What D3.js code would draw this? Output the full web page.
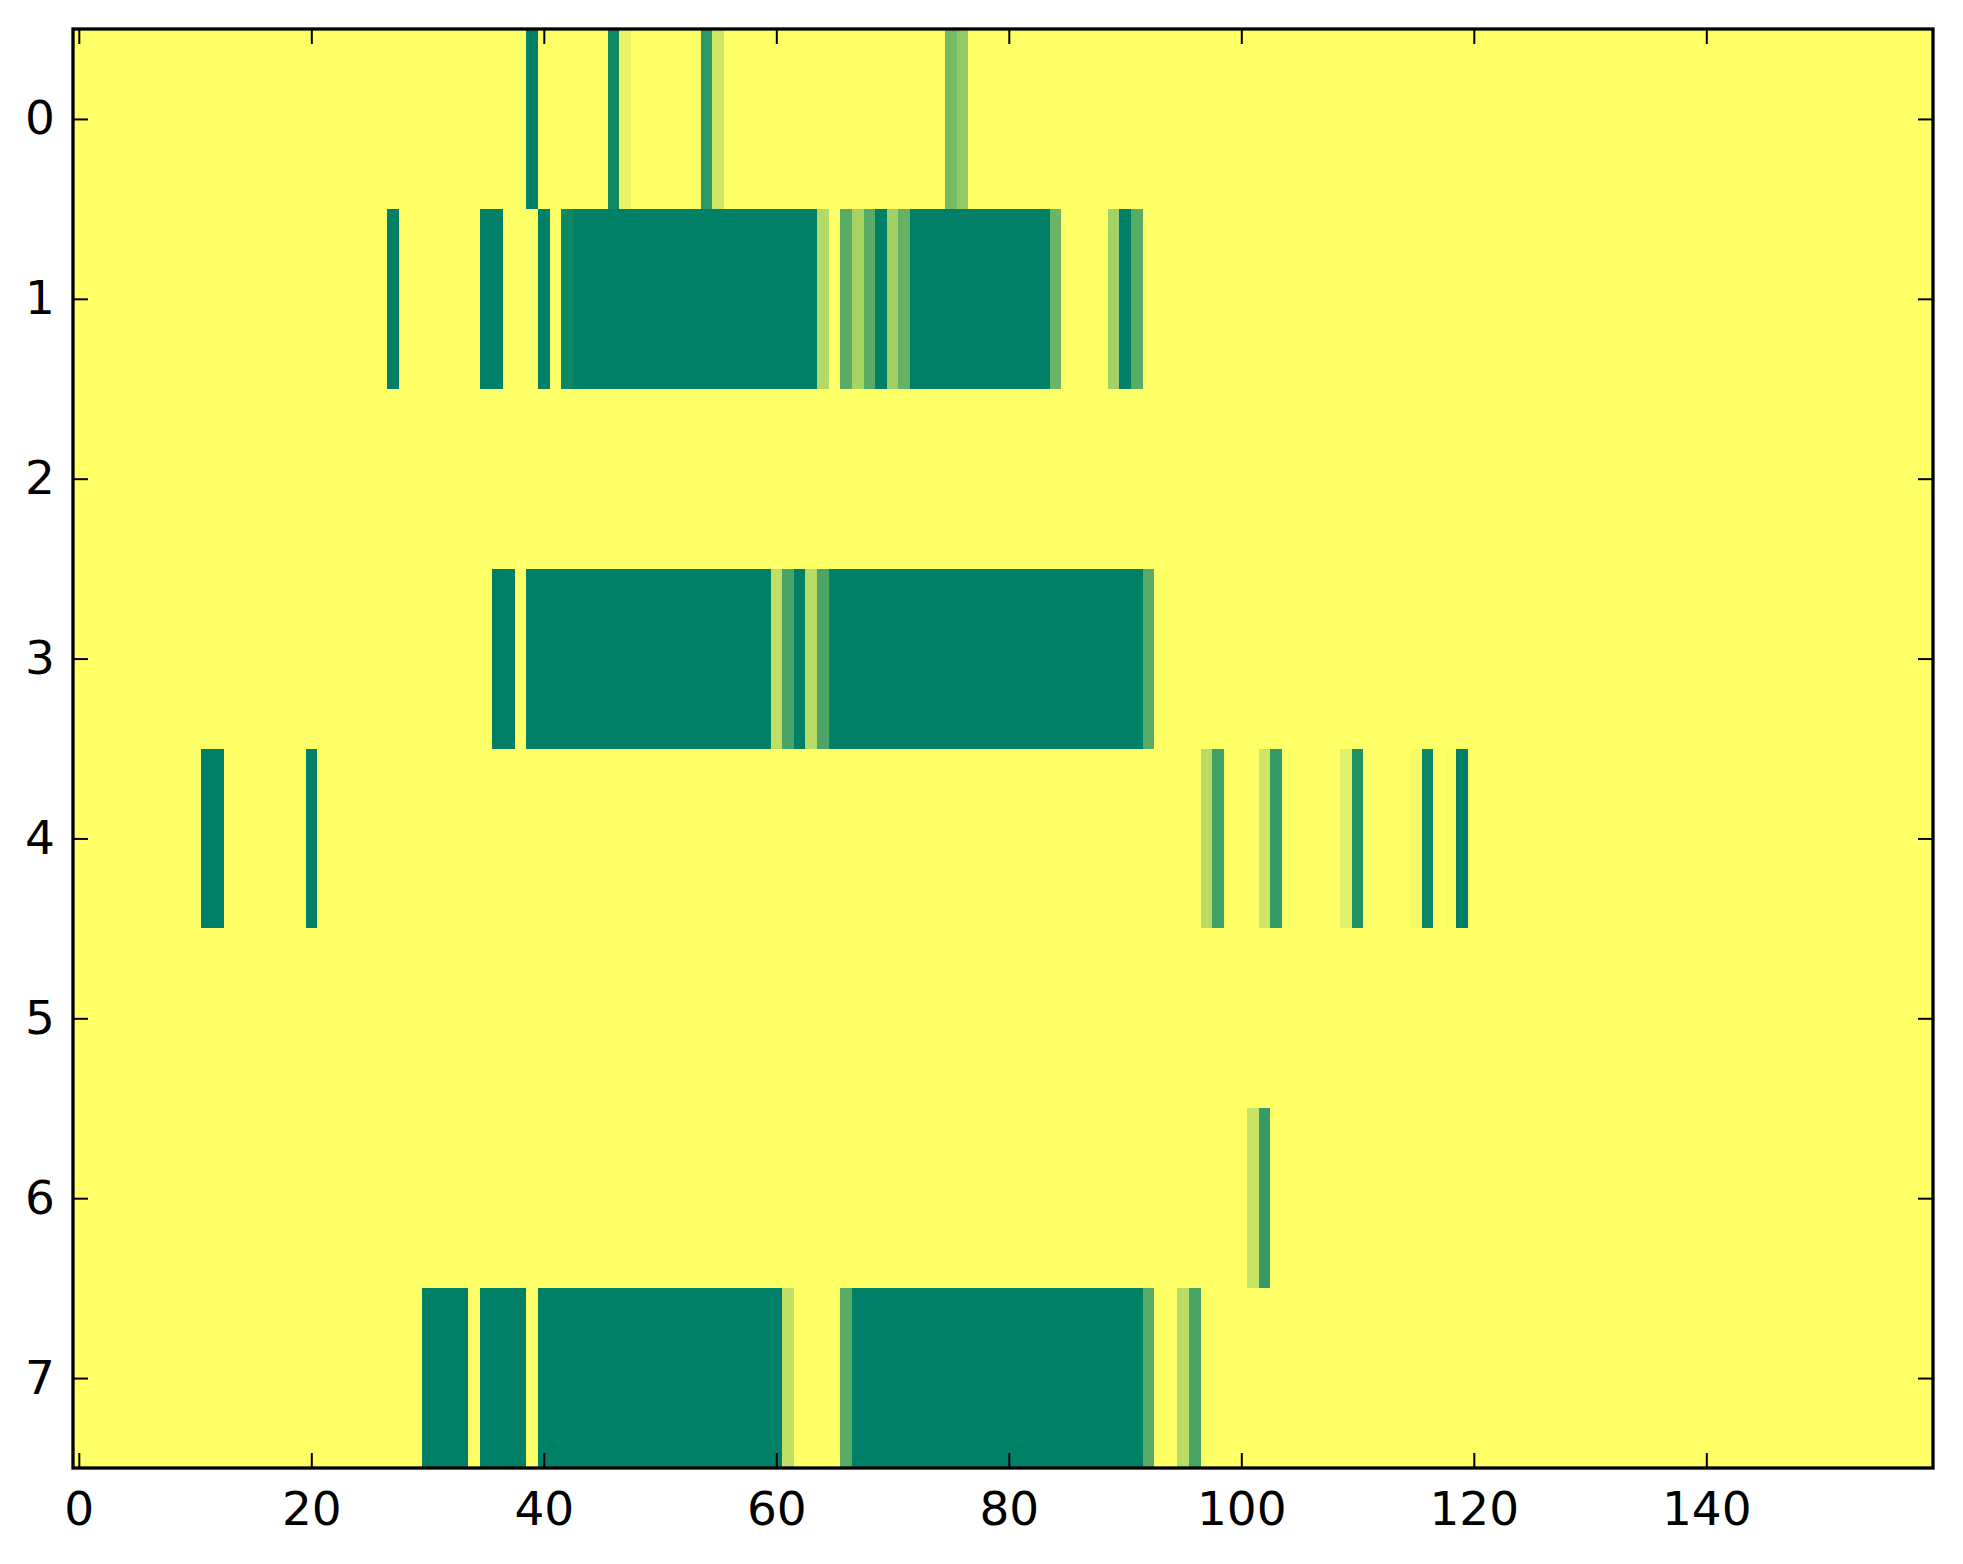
<!DOCTYPE html>
<html>
<head>
<meta charset="utf-8">
<script src="https://cdn.jsdelivr.net/npm/d3@7"></script>
<style>
  body { margin: 0; background: #fff; }
  svg text { font-family: "DejaVu Sans", sans-serif; }
</style>
</head>
<body>
<div id="chart"></div>
<script>
// matrix size
const nRows = 8;
const nCols = 160;

// non-zero runs per row: [firstCol, lastCol, value]; everything else is 0
const row0 = [[39, 39, 1], [46, 46, 0.93], [47, 47, 0.09], [54, 54, 0.82], [55, 55, 0.2], [75, 75, 0.54], [76, 76, 0.42]];
const row1 = [[27, 27, 1], [35, 36, 1], [40, 40, 1], [42, 42, 0.94], [43, 63, 1], [64, 64, 0.3], [66, 66, 0.65],
              [67, 67, 0.34], [68, 68, 0.65], [69, 69, 1], [70, 70, 0.37], [71, 71, 0.61], [72, 83, 1],
              [84, 84, 0.58], [89, 89, 0.36], [90, 90, 1], [91, 91, 0.65]];
const row2 = [];
const row3 = [[36, 37, 1], [39, 59, 1], [60, 60, 0.25], [61, 61, 0.72], [62, 62, 1], [63, 63, 0.28],
              [64, 64, 0.71], [65, 91, 1], [92, 92, 0.65]];
const row4 = [[11, 12, 1], [20, 20, 1], [97, 97, 0.28], [98, 98, 0.74], [102, 102, 0.2], [103, 103, 0.8],
              [109, 109, 0.12], [110, 110, 0.87], [115, 115, 0.04], [116, 116, 0.95], [118, 118, 0.02], [119, 119, 1]];
const row5 = [];
const row6 = [[101, 101, 0.22], [102, 102, 0.79]];
const row7 = [[30, 33, 1], [35, 38, 1], [40, 60, 1], [61, 61, 0.25], [66, 66, 0.65], [67, 91, 1],
              [92, 92, 0.65], [95, 95, 0.28], [96, 96, 0.72]];
const rows = [row0, row1, row2, row3, row4, row5, row6, row7];

const xTicks = [0, 20, 40, 60, 80, 100, 120, 140];
const yTicks = [0, 1, 2, 3, 4, 5, 6, 7];

// build full cell list
let cells = [];
rows.forEach((runs, r) => {
    let vals = new Array(nCols).fill(0);
    runs.forEach(([a, b, v]) => {
        for (let c = a; c <= b; c++) vals[c] = v;
    });
    vals.forEach((v, c) => cells.push({row: r, col: c, value: v}));
});

const width = 1963;
const height = 1564;
const svg = d3.select("#chart").append("svg")
    .attr("width", width)
    .attr("height", height);

const x = d3.scaleLinear().domain([-0.5, nCols - 0.5]).range([73, 1933]);
const y = d3.scaleLinear().domain([-0.5, nRows - 0.5]).range([29, 1468]);

// summer_r colormap
const color = d3.scaleLinear().domain([0, 1]).range(["#ffff66", "#008066"]).interpolate(d3.interpolateRgb);

svg.append("g")
    .selectAll("rect")
    .data(cells)
    .join("rect")
    .attr("x", d => x(d.col - 0.5))
    .attr("y", d => y(d.row - 0.5))
    .attr("width", d => x(d.col + 0.5) - x(d.col - 0.5))
    .attr("height", d => y(d.row + 0.5) - y(d.row - 0.5))
    .attr("fill", d => color(d.value))
    .attr("shape-rendering", "crispEdges");

const tickLen = 15;
const fontSize = 47;

function styleAxis(g) {
    g.select(".domain").remove();
    g.selectAll(".tick line").attr("stroke", "#000").attr("stroke-width", 2);
    g.selectAll(".tick text").attr("fill", "#000").style("font-size", fontSize + "px");
}

svg.append("g")
    .attr("transform", `translate(0,${y(nRows - 0.5)})`)
    .call(d3.axisBottom(x).tickValues(xTicks).tickSize(-tickLen).tickPadding(24))
    .call(styleAxis);

svg.append("g")
    .attr("transform", `translate(0,${y(-0.5)})`)
    .call(d3.axisTop(x).tickValues(xTicks).tickSize(-tickLen).tickFormat(""))
    .call(styleAxis);

svg.append("g")
    .attr("transform", `translate(${x(-0.5)},0)`)
    .call(d3.axisLeft(y).tickValues(yTicks).tickSize(-tickLen).tickPadding(18))
    .call(styleAxis);

svg.append("g")
    .attr("transform", `translate(${x(nCols - 0.5)},0)`)
    .call(d3.axisRight(y).tickValues(yTicks).tickSize(-tickLen).tickFormat(""))
    .call(styleAxis);

// frame
svg.append("rect")
    .attr("x", x(-0.5))
    .attr("y", y(-0.5))
    .attr("width", x(nCols - 0.5) - x(-0.5))
    .attr("height", y(nRows - 0.5) - y(-0.5))
    .attr("fill", "none")
    .attr("stroke", "#000")
    .attr("stroke-width", 3.3);
</script>
</body>
</html>
